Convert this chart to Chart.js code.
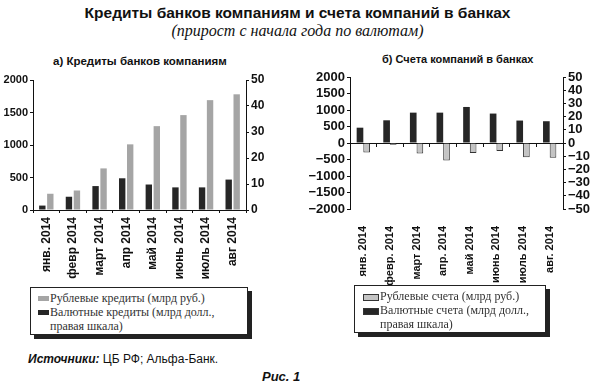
<!DOCTYPE html>
<html>
<head>
<meta charset="utf-8">
<script src="https://cdn.jsdelivr.net/npm/chart.js@4"></script>
<style>
  body { margin: 0; width: 595px; height: 391px; background: #fff; position: relative; overflow: hidden;
         font-family: "Liberation Sans", Arial, sans-serif; color: #111; }
  .t { position: absolute; white-space: nowrap; z-index: 2; }
  #title { left: 0; width: 595px; text-align: center; top: 4px; font-weight: bold; font-size: 15.5px; }
  #sub { left: 0; width: 595px; text-align: center; top: 22px; font-family: "Liberation Serif", serif;
         font-style: italic; font-size: 16px; }
  #capA { left: 53px; top: 55px; font-weight: bold; font-size: 11.5px; }
  #capB { left: 382px; top: 53px; font-weight: bold; font-size: 11px; }
  .box { position: absolute; border: 1px solid #222; box-shadow: 4px 4px 0 #222; background: #fff;
         font-family: "Liberation Serif", serif; font-size: 12px; line-height: 14px; color: #333;
         box-sizing: border-box; padding-top: 3px; }
  .row { position: relative; white-space: pre-line; }
  .sw { position: absolute; top: 5px; }
  #legA { left: 30px; top: 287px; width: 218px; height: 48px; }
  #legA .row { padding-left: 19px; }
  #legA .sw { left: 7px; width: 11px; height: 5px; }
  #legB { left: 354px; top: 285px; width: 192px; height: 48px; }
  #legB .row { padding-left: 25px; }
  #legB .sw { left: 8px; width: 14px; height: 5px; border: 1px solid #333; }
  #src { left: 28px; top: 352px; font-size: 12px; }
  #src b { font-style: italic; }
  #fig { left: 262px; top: 369px; font-size: 13px; font-weight: bold; font-style: italic; }
  .wrap { position: absolute; }
  #wA { left: 0; top: 70px; width: 290px; height: 215px; }
  #wB { left: 300px; top: 66px; width: 295px; height: 222px; }
</style>
</head>
<body>
<div class="t" id="title">Кредиты банков компаниям и счета компаний в банках</div>
<div class="t" id="sub">(прирост с начала года по валютам)</div>
<div class="t" id="capA">а) Кредиты банков компаниям</div>
<div class="t" id="capB">б) Счета компаний в банках</div>
<div class="wrap" id="wA"><canvas id="chartA"></canvas></div>
<div class="wrap" id="wB"><canvas id="chartB"></canvas></div>
<div class="box" id="legA"></div>
<div class="box" id="legB"></div>
<div class="t" id="src"><b>Источники:</b> ЦБ РФ; Альфа-Банк.</div>
<div class="t" id="fig">Рис. 1</div>
<script>
const monthsA = ['янв. 2014', 'февр 2014', 'март 2014', 'апр 2014', 'май 2014', 'июнь 2014', 'июль 2014', 'авг 2014'];
const monthsB = ['янв. 2014', 'февр. 2014', 'март 2014', 'апр. 2014', 'май 2014', 'июнь 2014', 'июль 2014', 'авг. 2014'];

// а) loans: rubles (bn RUB, left scale), fx (bn USD, right scale)
const rubLoans = [250, 300, 640, 1010, 1290, 1460, 1690, 1780];
const fxLoans = [1.7, 5.1, 9.2, 12.2, 9.8, 8.7, 8.7, 11.7];
// б) accounts
const rubAccounts = [-290, -50, -320, -530, -300, -240, -430, -450];
const fxAccounts = [11.6, 17.2, 23, 23, 27.3, 22.3, 17, 16.5];

const labelsA = ['Рублевые кредиты (млрд руб.)', 'Валютные кредиты (млрд долл.,\nправая шкала)'];
const labelsB = ['Рублевые счета (млрд руб.)', 'Валютные счета (млрд долл.,\nправая шкала)'];

const DARK = '#262626';
const INK = '#111';

function legend(id, labels, colors) {
  const el = document.getElementById(id);
  labels.forEach((txt, i) => {
    const row = document.createElement('div');
    row.className = 'row';
    row.textContent = txt;
    const sw = document.createElement('span');
    sw.className = 'sw';
    sw.style.background = colors[i];
    row.appendChild(sw);
    el.appendChild(row);
  });
}

function yAxis(pos, min, max, count, width, size) {
  return {
    position: pos, min: min, max: max,
    border: { color: INK },
    grid: { drawOnChartArea: false, tickLength: 3, color: INK },
    ticks: {
      count: count, autoSkip: false, color: INK, padding: 2,
      font: { family: 'Liberation Sans', weight: 'bold', size: size, lineHeight: 1 },
      callback: v => String(Math.round(v)).replace('-', '\u2212')
    },
    afterFit: s => { s.width = width; }
  };
}

new Chart(document.getElementById('chartA'), {
  type: 'bar',
  data: {
    labels: monthsA,
    datasets: [
      { label: labelsA[1], data: fxLoans, yAxisID: 'y1', backgroundColor: DARK,
        categoryPercentage: 0.6, barPercentage: 0.8 },
      { label: labelsA[0], data: rubLoans, yAxisID: 'y', backgroundColor: '#a5a5a5',
        categoryPercentage: 0.6, barPercentage: 0.8 }
    ]
  },
  options: {
    responsive: true, maintainAspectRatio: false, animation: false,
    layout: { padding: { top: 10 } },
    plugins: { legend: { display: false }, tooltip: { enabled: false } },
    scales: {
      x: {
        border: { color: INK },
        grid: { drawOnChartArea: false, tickLength: 3, color: INK, offset: true },
        ticks: { minRotation: 90, maxRotation: 90, autoSkip: false, padding: 4, color: INK,
                 font: { family: 'Liberation Sans', weight: 'bold', size: 12 } },
        afterFit: s => { s.height = 75; }
      },
      y: yAxis('left', 0, 2000, 5, 33, 11),
      y1: yAxis('right', 0, 50, 6, 44, 12)
    }
  }
});

new Chart(document.getElementById('chartB'), {
  type: 'bar',
  data: {
    labels: monthsB,
    datasets: [
      { label: labelsB[1], data: fxAccounts, yAxisID: 'y1', backgroundColor: DARK,
        categoryPercentage: 0.5, barPercentage: 1 },
      { label: labelsB[0], data: rubAccounts, yAxisID: 'y', backgroundColor: '#c4c4c4',
        borderColor: '#333', borderWidth: 1, categoryPercentage: 0.5, barPercentage: 1 }
    ]
  },
  options: {
    responsive: true, maintainAspectRatio: false, animation: false,
    layout: { padding: { top: 11 } },
    plugins: { legend: { display: false }, tooltip: { enabled: false } },
    scales: {
      x: {
        border: { display: false },
        grid: { display: false },
        ticks: { minRotation: 90, maxRotation: 90, autoSkip: false, padding: 9, color: INK,
                 font: { family: 'Liberation Sans', weight: 'bold', size: 11 } },
        afterFit: s => { s.height = 79; }
      },
      x2: {
        type: 'category', position: { y: 0 }, offset: true,
        border: { color: INK },
        grid: { drawOnChartArea: false, tickLength: 3, color: INK, offset: true },
        ticks: { display: false }
      },
      y: yAxis('left', -2000, 2000, 9, 50, 13),
      y1: yAxis('right', -50, 50, 11, 32, 13)
    }
  }
});

legend('legA', labelsA, ['#a5a5a5', DARK]);
legend('legB', labelsB, ['#c4c4c4', DARK]);
</script>
</body>
</html>
